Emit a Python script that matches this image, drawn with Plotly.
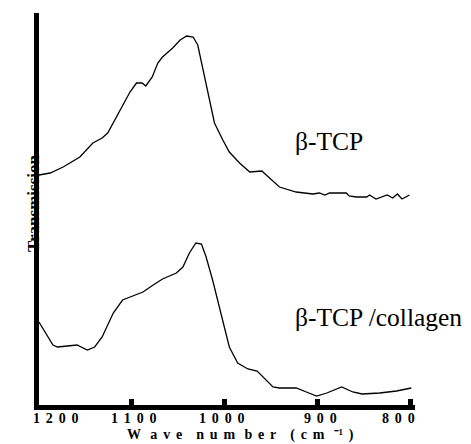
import plotly.graph_objects as go

# Wavenumber (cm-1) and transmission (arbitrary units)
tcp_wn = [1200, 1188, 1174, 1156, 1142, 1132, 1126, 1113, 1102, 1095, 1089, 1085,
          1078, 1072, 1067, 1056, 1048, 1041, 1034, 1029, 1024, 1018, 1011, 1002,
          995, 984, 973, 960, 955, 941, 923, 905, 898, 892, 887, 878, 869, 866,
          858, 847, 844, 837, 830, 825, 819, 814, 809, 801]
tcp_t = [230, 232, 238, 248, 262, 267, 272, 295, 313, 322, 322, 319,
         328, 342, 348, 357, 365, 369, 368, 360, 338, 315, 282, 265,
         253, 242, 233, 234, 230, 218, 213, 211, 212, 210, 212, 212, 212, 209,
         208, 208, 210, 206, 208, 210, 207, 211, 206, 210]

col_wn = [1200, 1192, 1185, 1180, 1167, 1159, 1148, 1140, 1132, 1120, 1110, 1099,
          1088, 1077, 1067, 1052, 1045, 1038, 1031, 1025, 1020, 1013, 1005, 995,
          986, 975, 965, 959, 948, 941, 923, 912, 901, 890, 874, 862, 852, 833,
          815, 799]
col_t = [83, 70, 60, 58, 59, 60, 55, 58, 68, 92, 105, 109,
         113, 120, 126, 132, 138, 152, 162, 161, 148, 125, 95, 58,
         42, 36, 34, 28, 18, 17, 17, 13, 9, 12, 18, 13, 11, 12,
         14, 17]

tick_vals = [1200, 1100, 1000, 900, 800]
tick_labels = ["1200", "1100", "1000", "900", "800"]
label_pos = [1182, 1098, 1003, 897, 813]

series_names = ["β-TCP", "β-TCP /collagen"]

FONT = "Liberation Serif, Times New Roman, serif"
LSP = "\u2005\u2006"      # letter gap
BSP = "\u2002\u2006"      # wider letter gap
WSP = "\u2003"            # word gap

# page body has an 8px margin; the figure is sized to fill the rest of the window
OFF = 8
W, H = 471 - OFF, 444 - OFF
L, R, T, B = 39 - OFF, 56, 13 - OFF, 39
PW, PH = W - L - R, H - T - B


def px_x(px):
    return (px - OFF - L) / PW


def px_y(py):
    return (H - B - (py - OFF)) / PH


fig = go.Figure()
fig.add_trace(go.Scatter(x=tcp_wn, y=tcp_t, mode="lines", name=series_names[0],
                         line=dict(color="black", width=1.3)))
fig.add_trace(go.Scatter(x=col_wn, y=col_t, mode="lines", name=series_names[1],
                         line=dict(color="black", width=1.3)))

annotations = []
for lab, pos in zip(tick_labels, label_pos):
    annotations.append(dict(x=pos, y=0, xref="x", yref="paper", yanchor="top",
                            yshift=-4, showarrow=False,
                            text="<b>" + LSP.join(lab) + "</b>",
                            font=dict(family=FONT, size=14, color="black")))

title_txt = ("W" + BSP + LSP.join("ave") + WSP + LSP.join("num") + BSP
             + LSP.join("ber") + WSP + "(" + LSP + "c" + LSP + "m" + BSP
             + "\u207b\u00b9" + LSP + ")")
annotations.append(dict(x=px_x(240.5), y=px_y(434.5), xref="paper", yref="paper",
                        yanchor="middle", showarrow=False,
                        text="<b>" + title_txt + "</b>",
                        font=dict(family=FONT, size=14, color="black")))
annotations.append(dict(x=px_x(21.5), y=px_y(203), xref="paper", yref="paper",
                        textangle=-90, showarrow=False,
                        text="<b>Transmission</b>",
                        font=dict(family=FONT, size=17, color="black")))
annotations.append(dict(x=px_x(293), y=px_y(125), xref="paper", yref="paper",
                        xanchor="left", showarrow=False, text=series_names[0],
                        font=dict(family=FONT, size=25.5, color="black")))
annotations.append(dict(x=px_x(293), y=px_y(334), xref="paper", yref="paper",
                        xanchor="left", showarrow=False, text=series_names[1],
                        font=dict(family=FONT, size=25.5, color="black")))

fig.update_layout(
    width=W, height=H,
    margin=dict(l=L, r=R, t=T, b=B),
    paper_bgcolor="white", plot_bgcolor="white",
    showlegend=False,
    annotations=annotations,
    xaxis=dict(range=[1200, 795], showgrid=False, zeroline=False,
               showline=True, linecolor="black", linewidth=5,
               tickvals=tick_vals, ticks="inside", ticklen=6, tickwidth=5,
               tickcolor="black", showticklabels=False),
    yaxis=dict(range=[0, 392], showgrid=False, zeroline=False,
               showline=True, linecolor="black", linewidth=5,
               showticklabels=False, ticks=""),
)

fig.write_html("out.html")
